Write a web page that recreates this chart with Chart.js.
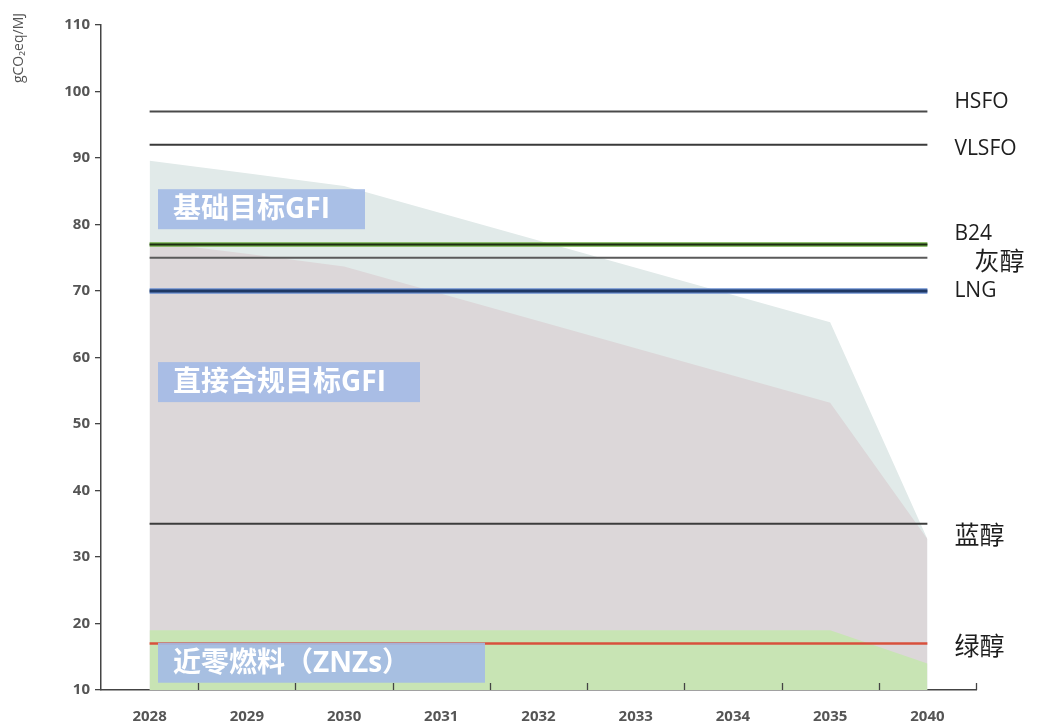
<!DOCTYPE html>
<html><head><meta charset="utf-8">
<script src="https://cdn.jsdelivr.net/npm/chart.js@4.4.0/dist/chart.umd.min.js"></script>
<style>html,body{margin:0;padding:0;background:#fff;}#wrap{width:1061px;height:724px;}</style>
</head><body><div id="wrap"><canvas id="c" width="1061" height="724"></canvas></div>
<script>
const categories = ['2028','2029','2030','2031','2032','2033','2034','2035','2040'];
const baseTargetGFI = [89.6, 87.7, 85.8, 81.7, 77.6, 73.5, 69.4, 65.3, 32.7];
const directTargetGFI = [77.4, 75.6, 73.7, 69.6, 65.5, 61.4, 57.3, 53.2, 32.7];
const znzThreshold = [19, 19, 19, 19, 19, 19, 19, 19, 14];
const fuelNames = ['HSFO', 'VLSFO', 'B24', '灰醇', 'LNG', '蓝醇', '绿醇'];
const fuelIntensity = [97, 92, 77, 75, 70, 35, 17];
const yTicks = [10, 20, 30, 40, 50, 60, 70, 80, 90, 100, 110];
const areaLabels = ['基础目标GFI', '直接合规目标GFI', '近零燃料（ZNZs）'];
const areaLabelAt = [82.3, 56.3, 14.1];
const yTitle = 'gCO₂eq/MJ';

const fuelStyle = {
  'HSFO': {c:'#4a4a4a', w:2},
  'VLSFO': {c:'#3a3a3a', w:2},
  'B24': {c:'#1c2a12', w:2, halo:'#6fae45'},
  '灰醇': {c:'#5a5a5a', w:2},
  'LNG': {c:'#1f3864', w:3, halo:'#6b8fd0'},
  '蓝醇': {c:'#3c3c3c', w:2},
  '绿醇': {c:'#d8503c', w:2.5}
};
const labelOffset = {'HSFO':[27,-9],'VLSFO':[27,4],'B24':[27,-10],'灰醇':[47,3],'LNG':[27,0],'蓝醇':[27,11],'绿醇':[27,2]};

const datasets = [];
fuelNames.forEach((n,i)=>{
  const st = fuelStyle[n];
  datasets.push({label:n, data: categories.map(()=>fuelIntensity[i]), borderColor: st.c, borderWidth: st.w, pointRadius:0, fill:false, order: 0});
  if (st.halo) datasets.push({label:n+'_halo', data: categories.map(()=>fuelIntensity[i]), borderColor: st.halo, borderWidth: st.w+2.5, pointRadius:0, fill:false, order: 1});
});
datasets.push({label:'ZNZ', data: znzThreshold, backgroundColor:'#c8e4b4', borderWidth:0, pointRadius:0, fill:'start', order: 2});
datasets.push({label:'Direct', data: directTargetGFI, backgroundColor:'#dcd7d9', borderWidth:0, pointRadius:0, fill:'start', order: 3});
datasets.push({label:'Base', data: baseTargetGFI, backgroundColor:'#e1eae9', borderWidth:0, pointRadius:0, fill:'start', order: 4});

const annot = {
  id:'annot',
  afterDatasetsDraw(chart){
    const ctx = chart.ctx, xs = chart.scales.x, ys = chart.scales.y, ca = chart.chartArea;
    ctx.save();
    // x tick marks pointing inward
    const step = xs.getPixelForValue(1) - xs.getPixelForValue(0);
    ctx.strokeStyle = '#444'; ctx.lineWidth = 1.3;
    for (let i=0;i<categories.length;i++){
      const x = Math.round(xs.getPixelForValue(i) + step/2) + 0.5;
      ctx.beginPath(); ctx.moveTo(x, ca.bottom); ctx.lineTo(x, ca.bottom-7); ctx.stroke();
    }
    // area label boxes
    const boxW = [207, 262, 327];
    ctx.font = 'bold 28px "Open Sans", "Noto Sans CJK SC", sans-serif';
    ctx.textBaseline = 'middle'; ctx.textAlign = 'left';
    areaLabels.forEach((t,i)=>{
      const yc = ys.getPixelForValue(areaLabelAt[i]);
      const x0 = ca.left + 57;
      ctx.fillStyle = 'rgba(163,186,230,0.9)';
      ctx.fillRect(x0, yc-20, boxW[i], 40);
      ctx.fillStyle = '#ffffff';
      ctx.fillText(t, x0+15, yc+1);
    });
    // fuel labels
    ctx.fillStyle = '#1e1e1e';
    fuelNames.forEach((n,i)=>{
      const [dx,dy] = labelOffset[n];
      const x = xs.getPixelForValue(categories.length-1) + dx;
      const y = ys.getPixelForValue(fuelIntensity[i]) + dy;
      const cjk = /[\u4e00-\u9fff]/.test(n);
      ctx.font = cjk ? '25px "Noto Sans CJK SC", sans-serif' : '21px "Open Sans", sans-serif';
      ctx.fillText(n, x, y);
    });
    // y axis title
    ctx.translate(19, 13);
    ctx.rotate(-Math.PI/2);
    ctx.textAlign = 'right'; ctx.textBaseline = 'middle';
    ctx.fillStyle = '#555';
    ctx.font = '14px "Open Sans", sans-serif';
    ctx.fillText(yTitle, 0, 0);
    ctx.restore();
  }
};

new Chart(document.getElementById('c'), {
  type:'line',
  data:{labels:categories, datasets},
  options:{
    responsive:false, animation:false,
    layout:{padding:{top:25, right:85, left:0, bottom:0}},
    plugins:{legend:{display:false}, tooltip:{enabled:false}},
    elements:{line:{tension:0}},
    scales:{
      x:{
        type:'category', offset:true,
        grid:{display:true, offset:true, drawOnChartArea:false, drawTicks:false},
        border:{display:true, color:'#444', width:1.5},
        ticks:{color:'#555', padding:18, font:{family:'"Open Sans", sans-serif', size:15, weight:'bold'}},
        afterFit(s){ s.height = 34; }
      },
      y:{
        min:10, max:110,
        afterBuildTicks(s){ s.ticks = yTicks.map(v=>({value:v})); },
        grid:{drawOnChartArea:false, drawTicks:true, tickLength:6, color:'#444', lineWidth:1.3},
        border:{display:true, color:'#444', width:1.5},
        ticks:{color:'#555', padding:5, font:{family:'"Open Sans", sans-serif', size:15, weight:'bold'}},
        title:{display:false},
        afterFit(s){ s.width = 101; }
      }
    }
  },
  plugins:[annot]
});
</script></body></html>
